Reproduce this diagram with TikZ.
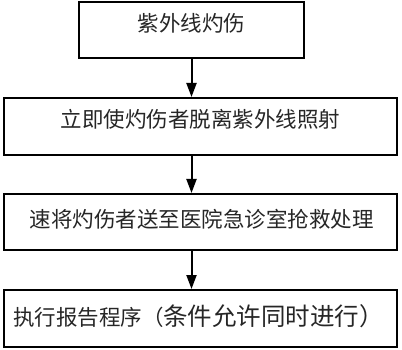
\documentclass[tikz,border=0pt]{standalone}
\usepackage{fontspec}
\newfontfamily\cjk{Noto Sans CJK SC}
\usetikzlibrary{arrows.meta}
\begin{document}
\begin{tikzpicture}[x=1pt,y=-1pt,
  box/.style={draw, line width=2pt, rectangle, inner sep=0pt},
  txt/.style={font=\cjk\fontsize{21.5}{24}\selectfont, inner sep=0pt, text=black!85},
  arr/.style={line width=2pt, -{Triangle[width=10pt,length=14pt]}}]
\useasboundingbox (0,0) rectangle (402,350);
\node[box, minimum width=225pt, minimum height=56pt] (b1) at (191.5,30.5) {};
\node[box, minimum width=393.5pt, minimum height=57pt] (b2) at (200.25,126.5) {};
\node[box, minimum width=393.5pt, minimum height=56pt] (b3) at (200.25,222) {};
\node[box, minimum width=393.5pt, minimum height=57pt] (b4) at (200.25,318.5) {};
\node[txt] (t1) at (191.5,23) {紫外线灼伤};
\node[txt] (t2) at (200.5,119) {立即使灼伤者脱离紫外线照射};
\node[txt] (t3) at (202,219) {速将灼伤者送至医院急诊室抢救处理};
\node[txt] (t4) at (198.5,316) {执行报告程序（{\fontsize{24.5}{28}\selectfont 条件允许同时进行）}};
\draw[arr] (b1.south) -- (b1.south |- b2.north);
\draw[arr] (b1.south |- b2.south) -- (b1.south |- b3.north);
\draw[arr] (b1.south |- b3.south) -- (b1.south |- b4.north);
\end{tikzpicture}
\end{document}
